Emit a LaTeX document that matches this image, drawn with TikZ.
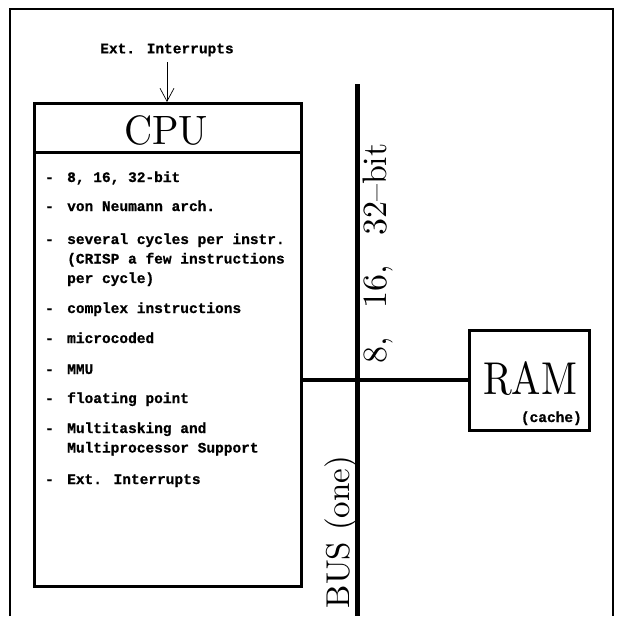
\documentclass[tikz,border=0pt]{standalone}
\usepackage{fontspec}
\newfontfamily\twfont{Liberation Mono}[BoldFeatures={FakeBold=0.8}]
\newfontfamily\cmten{lmroman10-regular}[Extension=.otf, Ligatures=TeX]
\usetikzlibrary{arrows.meta}
\begin{document}
\begin{tikzpicture}[x=1pt,y=-1pt,
  tw/.style={font=\twfont\bfseries\fontsize{14.5}{19.5}\selectfont, inner sep=0pt},
  item/.style={tw, anchor=base west, align=left},
  boxline/.style={line width=3pt},
  busline/.style={line width=5pt},
  bigtitle/.style={inner sep=0pt, font=\cmten\fontsize{41}{41}\selectfont},
  sidelabel/.style={inner sep=0pt, rotate=90}]
\useasboundingbox (0,0) rectangle (620,616);
% outer frame
\draw[line width=2pt] (10,616) -- (10,9) -- (613,9) -- (613,616);
% CPU box
\node[draw, boxline, anchor=north west, minimum width=267pt, minimum height=483pt, inner sep=0pt] (cpu) at (33,102) {};
\draw[boxline] ([yshift=-50pt]cpu.north west) -- ([yshift=-50pt]cpu.north east);
\node[bigtitle, xscale=0.95] (cputitle) at (166,130) {CPU};
% external interrupts
\node[tw] (extint) at (167,50) {Ext. Interrupts};
\coordinate (intTop) at (167,62);
\draw[line width=0.7pt, -{Straight Barb[length=13pt,width=14pt]}] (intTop) -- (intTop |- cpu.north);
% items
\def\dsh{\makebox[22pt][l]{-}}
\node[item] (i1) at (45,182) {\dsh 8, 16, 32-bit};
\node[item] (i2) at (45,211) {\dsh von Neumann arch.};
\node[item] (i3) at (45,244) {\dsh\begin{tabular}[t]{@{}l@{}}several cycles per instr.\\(CRISP a few instructions\\per cycle)\end{tabular}};
\node[item] (i4) at (45,313) {\dsh complex instructions};
\node[item] (i5) at (45,343) {\dsh microcoded};
\node[item] (i6) at (45,374) {\dsh MMU};
\node[item] (i7) at (45,403) {\dsh floating point};
\node[item] (i8) at (45,433) {\dsh\begin{tabular}[t]{@{}l@{}}Multitasking and\\Multiprocessor Support\end{tabular}};
\node[item] (i9) at (45,484) {\dsh Ext. Interrupts};
% RAM
\node[draw, boxline, minimum width=120pt, minimum height=100pt, inner sep=0pt] (ram) at (529,380) {};
\node[inner sep=0pt, font=\cmten\fontsize{46}{46}\selectfont, xscale=0.85] (ramtitle) at (530,379) {RAM};
\node[tw, anchor=base east] (cache) at (582,422) {(cache)};
% bus
\coordinate (busTop) at (357,84);
\coordinate (busBot) at (357,616);
\draw[busline] (busTop) -- (busBot);
\draw[line width=4pt] (ram.west) -- (ram.west -| cpu.east);
\node[sidelabel, font=\cmten\fontsize{34}{34}\selectfont] (buswidth) at (378,253.5) {8,\hspace{0.85em}16,\hspace{0.85em}32--bit};
\node[sidelabel, font=\cmten\fontsize{33}{33}\selectfont] (busname) at (341,532) {BUS (one)};
\end{tikzpicture}
\end{document}
